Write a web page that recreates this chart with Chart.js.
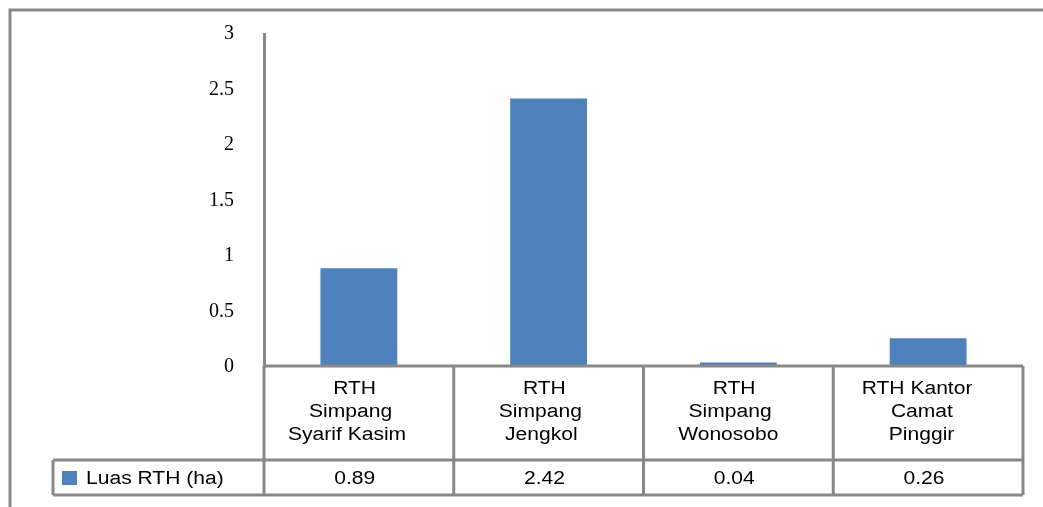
<!DOCTYPE html>
<html>
<head>
<meta charset="utf-8">
<script src="https://cdn.jsdelivr.net/npm/chart.js"></script>
<style>
  html, body { margin: 0; padding: 0; background: #fff; }
  #wrap { width: 1043px; height: 507px; }
</style>
</head>
<body>
<div id="wrap"><canvas id="rth"></canvas></div>
<script>
// chart data
const categories = [
  ['RTH', 'Simpang', 'Syarif Kasim'],
  ['RTH', 'Simpang', 'Jengkol'],
  ['RTH', 'Simpang', 'Wonosobo'],
  ['RTH Kantor', 'Camat', 'Pinggir']
];
const seriesName = 'Luas RTH (ha)';
const luasRTH = [0.89, 2.42, 0.04, 0.26];
const valueLabels = ['0.89', '2.42', '0.04', '0.26'];

const GRID = '#888888';
const BLUE = '#4f81bd';
const SANS = '"Liberation Sans", Arial, sans-serif';
const STRETCH = 1.17;

// draws the outer frame and the data table under the plot
const tablePlugin = {
  id: 'dataTable',
  afterDraw(chart) {
    const ctx = chart.ctx;
    const x = chart.scales.x;
    const area = chart.chartArea;
    const step = x.getPixelForValue(1) - x.getPixelForValue(0);
    const left = area.left, right = area.right;
    const top = area.bottom - 1, mid = 460, bottom = 495, legendLeft = 53;

    // stretched text, centred cells lean a little to the left like the original
    const text = (s, px, py, centred) => {
      ctx.save();
      const w = ctx.measureText(s).width * STRETCH;
      ctx.translate(centred ? px - w * 0.1 : px, py);
      ctx.scale(STRETCH, 1);
      ctx.fillText(s, 0, 0);
      ctx.restore();
    };

    ctx.save();
    ctx.strokeStyle = GRID;
    ctx.lineWidth = 3;
    ctx.beginPath();
    // outer frame
    ctx.moveTo(10, 507); ctx.lineTo(10, 10); ctx.lineTo(1043, 10);
    // horizontal rules
    ctx.moveTo(left, top); ctx.lineTo(right, top);
    ctx.moveTo(legendLeft, mid); ctx.lineTo(right, mid);
    ctx.moveTo(legendLeft, bottom); ctx.lineTo(right, bottom);
    // vertical rules
    ctx.moveTo(legendLeft, mid); ctx.lineTo(legendLeft, bottom);
    for (let i = 0; i <= categories.length; i++) {
      const px = x.getPixelForValue(0) - step / 2 + i * step;
      ctx.moveTo(px, top); ctx.lineTo(px, bottom);
    }
    ctx.stroke();

    ctx.fillStyle = '#000';
    ctx.font = '18px ' + SANS;
    ctx.textBaseline = 'middle';
    ctx.textAlign = 'center';
    categories.forEach((lines, i) => {
      const cx = x.getPixelForValue(i);
      lines.forEach((ln, j) => text(ln, cx, 389 + j * 23, true));
      text(valueLabels[i], cx, 479, true);
    });

    // legend key
    ctx.fillStyle = BLUE;
    ctx.fillRect(62, 471, 15, 14);
    ctx.fillStyle = '#000';
    ctx.textAlign = 'left';
    text(seriesName, 86, 479, false);
    ctx.restore();
  }
};

new Chart(document.getElementById('rth'), {
  type: 'bar',
  data: {
    labels: categories,
    datasets: [{
      label: seriesName,
      data: luasRTH,
      backgroundColor: BLUE,
      barPercentage: 0.405,
      categoryPercentage: 1
    }]
  },
  options: {
    responsive: true,
    maintainAspectRatio: false,
    animation: false,
    layout: { padding: { left: 0, top: 34, right: 20, bottom: 140 } },
    plugins: {
      legend: { display: false },
      tooltip: { enabled: false }
    },
    scales: {
      x: { display: false },
      y: {
        min: 0,
        max: 3,
        afterFit(scale) {
          scale.width = 264;
          scale.paddingTop = 0;
          scale.paddingBottom = 0;
        },
        grid: { display: false, drawTicks: false },
        border: { display: true, color: GRID, width: 3 },
        ticks: {
          stepSize: 0.5,
          padding: 30,
          color: '#000',
          callback: v => String(v),
          font: { family: '"Liberation Serif", "Times New Roman", serif', size: 20 }
        }
      }
    }
  },
  plugins: [tablePlugin]
});
</script>
</body>
</html>
